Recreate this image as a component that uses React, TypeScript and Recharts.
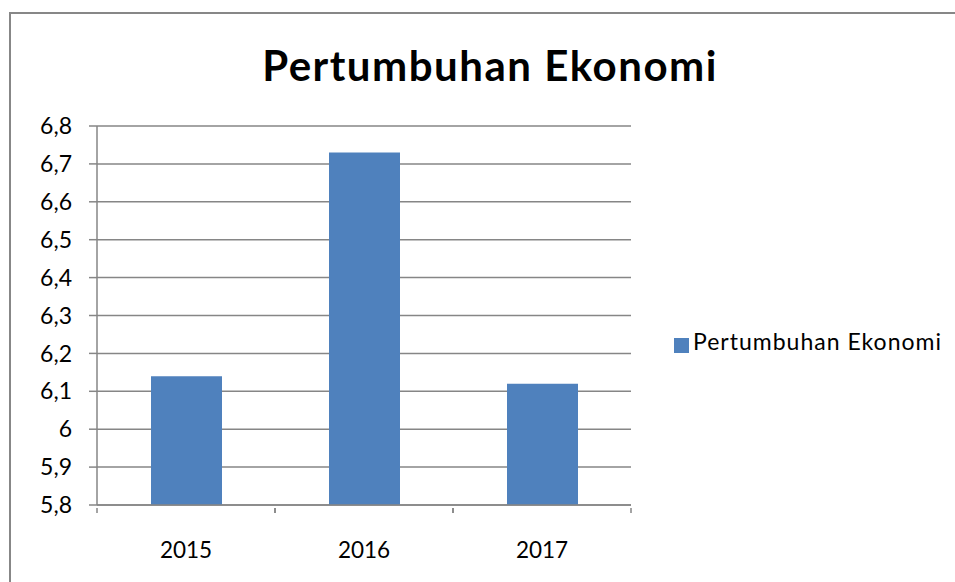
import { BarChart, Bar, XAxis, YAxis, CartesianGrid, Legend } from 'recharts';

const years = ['2015', '2016', '2017'];
const growth = [6.14, 6.73, 6.12];
const yTicks = [5.8, 5.9, 6, 6.1, 6.2, 6.3, 6.4, 6.5, 6.6, 6.7, 6.8];

const seriesName = 'Pertumbuhan Ekonomi';
const data = years.map((year, i) => ({ year, value: growth[i] }));

const axisColor = '#868686';
const font = 'Lato, Carlito, sans-serif';

// Excel style: tick marks at category borders, label in the middle
function CategoryTick(props: any) {
  const { x, y, payload } = props;
  const half = payload && payload.offset ? payload.offset : 89;
  return (
    <g>
      <line x1={x - half} y1={y - 5} x2={x - half} y2={y} stroke={axisColor} strokeWidth={1.5} />
      <line x1={x + half} y1={y - 5} x2={x + half} y2={y} stroke={axisColor} strokeWidth={1.5} />
      <text x={x} y={y + 29} textAnchor="middle" dy="0.71em" fontSize={22.5} fill="#000" fontFamily={font}>
        {payload.value}
      </text>
    </g>
  );
}

export default function App() {
  return (
    <div
      style={{
        position: 'fixed',
        left: 0,
        top: 0,
        width: 955,
        height: 582,
        background: '#fff',
        overflow: 'hidden',
        fontFamily: font,
      }}
    >
      <div
        style={{
          position: 'absolute',
          left: 9,
          top: 12,
          width: 1000,
          height: 700,
          borderLeft: '2px solid #878787',
          borderTop: '2px solid #878787',
        }}
      />
      <div
        style={{
          position: 'absolute',
          left: 0,
          top: 39,
          width: 980,
          textAlign: 'center',
          fontSize: 42,
          fontWeight: 700,
          letterSpacing: 1.5,
          color: '#000',
          lineHeight: '52px',
        }}
      >
        {seriesName}
      </div>
      <div style={{ position: 'absolute', left: 0, top: 0 }}>
        <BarChart
          width={955}
          height={582}
          data={data}
          margin={{ top: 126, right: 324, left: 0, bottom: 17 }}
        >
          <CartesianGrid vertical={false} stroke={axisColor} strokeWidth={1.5} />
          <XAxis
            dataKey="year"
            height={60}
            axisLine={{ stroke: axisColor, strokeWidth: 1.5 }}
            tickLine={false}
            tick={<CategoryTick />}
            interval={0}
          />
          <YAxis
            width={97}
            domain={[5.8, 6.8]}
            ticks={yTicks}
            interval={0}
            allowDataOverflow
            axisLine={{ stroke: axisColor, strokeWidth: 1.5 }}
            tickLine={{ stroke: axisColor, strokeWidth: 1.5 }}
            tickSize={8}
            tickMargin={17}
            tick={{ fontSize: 23, fill: '#000', fontFamily: font }}
            tickFormatter={(v: number) => String(Math.round(v * 10) / 10).replace('.', ',')}
          />
          <Legend
            layout="horizontal"
            align="center"
            verticalAlign="middle"
            iconType="square"
            iconSize={15}
            wrapperStyle={{ left: 671, top: 327, width: 284, textAlign: 'left' }}
            formatter={(value: string) => (
              <span style={{ color: '#000', fontSize: 23, letterSpacing: 1, fontFamily: font }}>{value}</span>
            )}
          />
          <Bar
            dataKey="value"
            name={seriesName}
            fill="#4F81BD"
            barSize={71}
            isAnimationActive={false}
          />
        </BarChart>
      </div>
    </div>
  );
}
